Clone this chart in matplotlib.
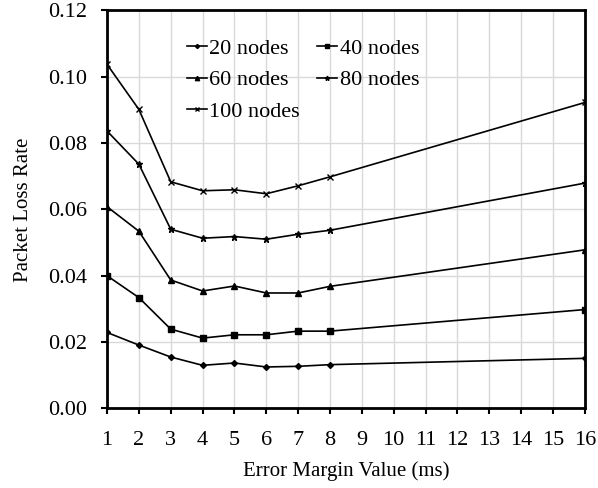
import matplotlib.pyplot as plt

# packet loss rate against error margin, one curve per network size
margin = [1, 2, 3, 4, 5, 6, 7, 8, 16]
loss_20 = [0.0229, 0.0191, 0.0155, 0.0130, 0.0137, 0.0125, 0.0127, 0.0132, 0.0151]
loss_40 = [0.0400, 0.0334, 0.0239, 0.0212, 0.0222, 0.0222, 0.0233, 0.0233, 0.0298]
loss_60 = [0.0608, 0.0534, 0.0387, 0.0354, 0.0369, 0.0348, 0.0348, 0.0368, 0.0478]
loss_80 = [0.0836, 0.0736, 0.0540, 0.0513, 0.0518, 0.0510, 0.0525, 0.0537, 0.0679]
loss_100 = [0.1037, 0.0901, 0.0683, 0.0656, 0.0659, 0.0647, 0.0671, 0.0698, 0.0922]
labels = ['20 nodes', '40 nodes', '60 nodes', '80 nodes', '100 nodes']

plt.rcParams['font.family'] = 'Liberation Serif'

fig, ax = plt.subplots(figsize=(5.98, 4.88), dpi=100)
fig.subplots_adjust(left=0.179, right=0.978, top=0.979, bottom=0.163)

series = [loss_20, loss_40, loss_60, loss_80, loss_100]
markers = ['D', 's', '^', '*', 'x']
sizes = [3, 4.5, 4.5, 5, 4.5]
lines = []
for vals, lab, m, ms in zip(series, labels, markers, sizes):
    ln, = ax.plot(margin, vals, color='black', lw=1.2, marker=m, markersize=ms,
                  markeredgewidth=1, label=lab)
    lines.append(ln)

ax.set_xlim(1, 16)
ax.set_ylim(0, 0.12)
ax.set_xticks(range(1, 17))
ax.set_yticks([0, 0.02, 0.04, 0.06, 0.08, 0.10, 0.12])
ax.set_yticklabels(['%.2f' % v for v in ax.get_yticks()])
ax.grid(True, color='#d9d9d9', lw=1)
ax.set_axisbelow(True)
for s in ax.spines.values():
    s.set_linewidth(2)
ax.tick_params(axis='both', labelsize=16, direction='out', width=1.5, length=4)
ax.tick_params(axis='x', pad=12)
ax.tick_params(axis='y', pad=10)

ax.set_xlabel('Error Margin Value (ms)', fontsize=15, labelpad=8)
ax.set_ylabel('Packet Loss Rate', fontsize=15, labelpad=11)

# row-wise legend order: 20/40, 60/80, 100
order = [0, 2, 4, 1, 3]
ax.legend([lines[i] for i in order], [labels[i] for i in order], ncol=2,
          loc='upper left', bbox_to_anchor=(0.167, 0.93), frameon=False,
          borderpad=0, borderaxespad=0, fontsize=16, markerscale=0.7,
          handlelength=0.9, handletextpad=0.1, columnspacing=0.8,
          labelspacing=0.5)

fig.savefig('out.png')
